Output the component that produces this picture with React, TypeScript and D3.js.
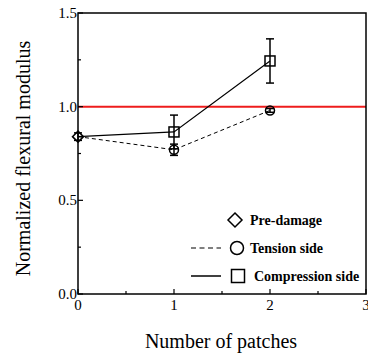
import React from "react";
import * as d3 from "d3";

const preDamage = { x: 0, y: 0.84, err: 0.02 };
const tensionX = [0, 1, 2];
const tensionY = [0.84, 0.77, 0.98];
const tensionErr = [0.02, 0.03, 0.01];
const compX = [0, 1, 2];
const compY = [0.84, 0.865, 1.244];
const compErr = [0.02, 0.09, 0.118];
const xTicks = [0, 1, 2, 3];
const xMinor = [0.5, 1.5, 2.5];
const yTicks = [0, 0.5, 1.0, 1.5];
const yMinor = [0.25, 0.75, 1.25];
const refLine = 1.0;
const legendItems = ["Pre-damage", "Tension side", "Compression side"];

const W = 368, H = 356;
const L = 78, R = 366, T = 13, B = 294;

export default function App() {
  const x = d3.scaleLinear().domain([0, 3]).range([L, R]);
  const y = d3.scaleLinear().domain([0, 1.5]).range([B, T]);
  const mk = (X: number[], Y: number[]) =>
    d3.line<number>().x((d) => x(d)).y((_, i) => y(Y[i]))(X) || "";
  const fs = { fontFamily: "Liberation Serif" } as React.CSSProperties;
  const errBar = (cx: number, v: number, e: number, key: string) => (
    <g key={key} stroke="#000" strokeWidth={1.5}>
      <line x1={x(cx)} x2={x(cx)} y1={y(v - e)} y2={y(v + e)} />
      <line x1={x(cx) - 4} x2={x(cx) + 4} y1={y(v - e)} y2={y(v - e)} />
      <line x1={x(cx) - 4} x2={x(cx) + 4} y1={y(v + e)} y2={y(v + e)} />
    </g>
  );
  const diamond = (cx: number, cy: number, r: number) =>
    `M${cx},${cy - r}L${cx + r},${cy}L${cx},${cy + r}L${cx - r},${cy}Z`;
  return (
    <svg width={W} height={H} style={{ position: "absolute", left: 0, top: 0, background: "#fff" }}>
      <line x1={L} x2={R} y1={y(refLine)} y2={y(refLine)} stroke="#ee1c1c" strokeWidth={2} />
      <path d={mk(tensionX, tensionY)} fill="none" stroke="#000" strokeWidth={1} strokeDasharray="4,3" />
      <path d={mk(compX, compY)} fill="none" stroke="#000" strokeWidth={1.2} />
      {errBar(preDamage.x, preDamage.y, preDamage.err, "pe")}
      {tensionX.slice(1).map((d, i) => errBar(d, tensionY[i + 1], tensionErr[i + 1], "te" + i))}
      {compX.slice(1).map((d, i) => errBar(d, compY[i + 1], compErr[i + 1], "ce" + i))}
      <path d={diamond(x(preDamage.x), y(preDamage.y), 5.5)} fill="none" stroke="#000" strokeWidth={1.5} />
      {tensionX.slice(1).map((d, i) => (
        <circle key={"tc" + i} cx={x(d)} cy={y(tensionY[i + 1])} r={4.5} fill="none" stroke="#000" strokeWidth={1.5} />
      ))}
      {compX.slice(1).map((d, i) => (
        <rect key={"cs" + i} x={x(d) - 5} y={y(compY[i + 1]) - 5} width={10} height={10} fill="none" stroke="#000" strokeWidth={1.5} />
      ))}
      <rect x={L} y={T} width={R - L} height={B - T} fill="none" stroke="#000" strokeWidth={1.5} />
      {xTicks.map((t) => (
        <line key={"xt" + t} x1={x(t)} x2={x(t)} y1={B} y2={B - 5} stroke="#000" strokeWidth={1.2} />
      ))}
      {xMinor.map((t) => (
        <line key={"xm" + t} x1={x(t)} x2={x(t)} y1={B} y2={B - 3} stroke="#000" strokeWidth={1.2} />
      ))}
      {yTicks.map((t) => (
        <line key={"yt" + t} x1={L} x2={L + 5} y1={y(t)} y2={y(t)} stroke="#000" strokeWidth={1.2} />
      ))}
      {yMinor.map((t) => (
        <line key={"ym" + t} x1={L} x2={L + 3} y1={y(t)} y2={y(t)} stroke="#000" strokeWidth={1.2} />
      ))}
      {xTicks.map((t) => (
        <text key={"xl" + t} x={x(t)} y={310} textAnchor="middle" style={fs} fontSize={15}>{t}</text>
      ))}
      {yTicks.map((t) => (
        <text key={"yl" + t} x={L - 1} y={y(t) + 5} textAnchor="end" style={fs} fontSize={15}>{t.toFixed(1)}</text>
      ))}
      <text x={221} y={348} textAnchor="middle" style={fs} fontSize={20}>Number of patches</text>
      <text transform={`translate(30,158.5) rotate(-90)`} textAnchor="middle" style={fs} fontSize={20}>Normalized flexural modulus</text>
      <g style={fs} fontSize={14} fontWeight="bold">
        <path d={diamond(235, 220, 7)} fill="none" stroke="#000" strokeWidth={1.5} />
        <text x={250} y={225}>{legendItems[0]}</text>
        <line x1={191} x2={221} y1={248} y2={248} stroke="#000" strokeWidth={1.2} strokeDasharray="5,3.5" />
        <circle cx={237} cy={248} r={6.5} fill="none" stroke="#000" strokeWidth={1.5} />
        <text x={250} y={253}>{legendItems[1]}</text>
        <line x1={191} x2={221} y1={276} y2={276} stroke="#000" strokeWidth={1.5} />
        <rect x={231.5} y={269.5} width={13} height={13} fill="none" stroke="#000" strokeWidth={1.5} />
        <text x={254} y={281}>{legendItems[2]}</text>
      </g>
    </svg>
  );
}
